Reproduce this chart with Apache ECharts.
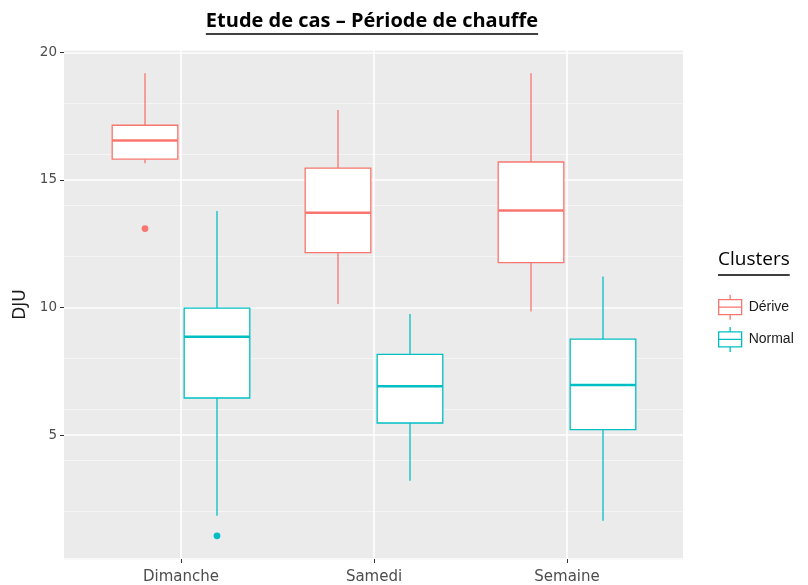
<!DOCTYPE html>
<html>
<head>
<meta charset="utf-8">
<script src="https://cdn.jsdelivr.net/npm/echarts@6/dist/echarts.min.js"></script>
<style>
html,body{margin:0;padding:0;background:#fff;}
#chart{width:808px;height:585px;}
</style>
</head>
<body>
<div id="chart"></div>
<script>
// ---- Data ----
const categories = ['Dimanche', 'Samedi', 'Semaine'];
const clusterNames = ['Dérive', 'Normal'];
// Dérive cluster
const deriveLow  = [15.65, 10.13, 9.84];
const deriveQ1   = [15.81, 12.15, 11.76];
const deriveMed  = [16.54, 13.71, 13.80];
const deriveQ3   = [17.14, 15.46, 15.70];
const deriveHigh = [19.18, 17.74, 19.18];
const deriveOutliers = [[0, 13.09]];
// Normal cluster
const normalLow  = [1.84, 3.21, 1.64];
const normalQ1   = [6.45, 5.47, 5.21];
const normalMed  = [8.85, 6.91, 6.96];
const normalQ3   = [9.97, 8.16, 8.76];
const normalHigh = [13.78, 9.74, 11.21];
const normalOutliers = [[0, 1.05]];
// y ticks
const yTickLabels = [5, 10, 15, 20];
const yMin = 0.14, yMax = 20.09;

// ---- Styling ----
const colDerive = '#F8766D';
const colNormal = '#00BFC4';
const BOX_FRAC = 0.34;
const OFFSET_FRAC = 0.1865;

function boxRows(low, q1, med, q3, high) {
  return categories.map((c, i) => [i, low[i], q1[i], med[i], q3[i], high[i]]);
}

function boxRenderer(offsetFrac, color) {
  return function (params, api) {
    const x = api.value(0);
    const low = api.coord([x, api.value(1)]);
    const q1 = api.coord([x, api.value(2)]);
    const med = api.coord([x, api.value(3)]);
    const q3 = api.coord([x, api.value(4)]);
    const high = api.coord([x, api.value(5)]);
    const band = api.size([1, 0])[0];
    const cx = low[0] + offsetFrac * band;
    const hw = BOX_FRAC * band / 2;
    const lw = 1.3;
    return {
      type: 'group',
      children: [
        {type: 'line', shape: {x1: cx, y1: high[1], x2: cx, y2: q3[1]}, style: {stroke: color, lineWidth: lw}},
        {type: 'line', shape: {x1: cx, y1: q1[1], x2: cx, y2: low[1]}, style: {stroke: color, lineWidth: lw}},
        {type: 'rect', shape: {x: cx - hw, y: q3[1], width: 2 * hw, height: q1[1] - q3[1]}, style: {fill: '#ffffff', stroke: color, lineWidth: lw}},
        {type: 'line', shape: {x1: cx - hw, y1: med[1], x2: cx + hw, y2: med[1]}, style: {stroke: color, lineWidth: 2.6}}
      ]
    };
  };
}

function outlierRenderer(offsetFrac, color) {
  return function (params, api) {
    const p = api.coord([api.value(0), api.value(1)]);
    const band = api.size([1, 0])[0];
    return {type: 'circle', shape: {cx: p[0] + offsetFrac * band, cy: p[1], r: 3.4}, style: {fill: color}};
  };
}

// measure text for underlines
function textWidth(font, txt) {
  const c = document.createElement('canvas').getContext('2d');
  c.font = font;
  return c.measureText(txt).width;
}
const titleText = 'Etude de cas – Période de chauffe';
const titleFont = 'bold 20px "Open Sans"';
const titleW = textWidth(titleFont, titleText);
const titleCx = 372;
const legTitle = 'Clusters';
const legFont = '19px "Open Sans"';
const legW = textWidth(legFont, legTitle);

const chart = echarts.init(document.getElementById('chart'), null, {renderer: 'canvas'});
const iconPath = 'path://M0,5H23V20H0Z M0,12.5H23 M11.5,0V5 M11.5,20V25';

chart.setOption({
  animation: false,
  backgroundColor: '#ffffff',
  graphic: [
    {type: 'text', left: titleCx - titleW / 2, top: 11, style: {text: titleText, font: titleFont, fill: '#000000'}},
    {type: 'line', shape: {x1: titleCx - titleW / 2, y1: 34, x2: titleCx + titleW / 2, y2: 34}, style: {stroke: '#000000', lineWidth: 1.5}},
    {type: 'text', left: 718, top: 250, style: {text: legTitle, font: legFont, fill: '#000000'}},
    {type: 'line', shape: {x1: 718, y1: 275, x2: 718 + legW, y2: 275}, style: {stroke: '#000000', lineWidth: 1.3}}
  ],
  legend: {
    orient: 'vertical',
    left: 713,
    top: 289,
    itemWidth: 23,
    itemHeight: 25,
    itemGap: 6,
    textStyle: {fontFamily: 'Liberation Sans', fontSize: 14, color: '#1a1a1a', padding: [0, 0, 0, 2]},
    data: [
      {name: 'Dérive', icon: iconPath, itemStyle: {color: '#ffffff', borderColor: colDerive, borderWidth: 1.3}},
      {name: 'Normal', icon: iconPath, itemStyle: {color: '#ffffff', borderColor: colNormal, borderWidth: 1.3}}
    ]
  },
  grid: [
    {left: 64, right: 125, top: 50, bottom: 26, show: true, backgroundColor: '#EBEBEB', borderWidth: 0, containLabel: false},
    {left: 181, right: 241, top: 50, bottom: 26, containLabel: false}
  ],
  xAxis: [
    {gridIndex: 0, type: 'value', min: 0, max: 1, show: false},
    {
      gridIndex: 1, type: 'category', data: categories, boundaryGap: false,
      axisLine: {show: false},
      axisTick: {show: true, length: 4, lineStyle: {color: '#333333', width: 1}},
      axisLabel: {margin: 11, fontFamily: 'DejaVu Sans', fontSize: 15, color: '#4D4D4D'},
      splitLine: {show: true, lineStyle: {color: '#ffffff', width: 1.6}}
    }
  ],
  yAxis: [
    {
      gridIndex: 0, type: 'value', min: yMin, max: yMax, splitNumber: 4,
      name: 'DJU', nameLocation: 'middle', nameGap: 31, nameRotate: 90,
      nameTextStyle: {fontFamily: 'DejaVu Sans', fontSize: 17, color: '#1a1a1a'},
      axisLine: {show: false},
      axisTick: {show: true, length: 4, lineStyle: {color: '#333333'},
        interval: function (i, v) { return yTickLabels.indexOf(Math.round(v * 100) / 100) >= 0; }},
      axisLabel: {margin: 7, fontFamily: 'DejaVu Sans', fontSize: 13.5, color: '#4D4D4D',
        showMinLabel: false, showMaxLabel: false,
        formatter: function (v) { return yTickLabels.indexOf(Math.round(v * 100) / 100) >= 0 ? String(Math.round(v)) : ''; }},
      splitLine: {show: true, lineStyle: {color: '#ffffff', width: 1.6}}
    },
    {
      gridIndex: 0, type: 'value', min: yMin, max: yMax, splitNumber: 8, show: true,
      axisLine: {show: false}, axisTick: {show: false}, axisLabel: {show: false},
      splitLine: {show: true, lineStyle: {color: '#F7F7F7', width: 0.8}}
    },
    {gridIndex: 1, type: 'value', min: yMin, max: yMax, show: false}
  ],
  series: [
    {
      name: 'Dérive', type: 'custom', xAxisIndex: 1, yAxisIndex: 2,
      itemStyle: {color: colDerive},
      encode: {x: 0, y: [1, 2, 3, 4, 5]},
      renderItem: boxRenderer(-OFFSET_FRAC, colDerive),
      data: boxRows(deriveLow, deriveQ1, deriveMed, deriveQ3, deriveHigh),
      z: 3
    },
    {
      name: 'Normal', type: 'custom', xAxisIndex: 1, yAxisIndex: 2,
      itemStyle: {color: colNormal},
      encode: {x: 0, y: [1, 2, 3, 4, 5]},
      renderItem: boxRenderer(OFFSET_FRAC, colNormal),
      data: boxRows(normalLow, normalQ1, normalMed, normalQ3, normalHigh),
      z: 3
    },
    {
      name: 'Dérive', type: 'custom', xAxisIndex: 1, yAxisIndex: 2,
      itemStyle: {color: colDerive},
      encode: {x: 0, y: 1},
      renderItem: outlierRenderer(-OFFSET_FRAC, colDerive),
      data: deriveOutliers, z: 4
    },
    {
      name: 'Normal', type: 'custom', xAxisIndex: 1, yAxisIndex: 2,
      itemStyle: {color: colNormal},
      encode: {x: 0, y: 1},
      renderItem: outlierRenderer(OFFSET_FRAC, colNormal),
      data: normalOutliers, z: 4
    }
  ]
});
</script>
</body>
</html>
